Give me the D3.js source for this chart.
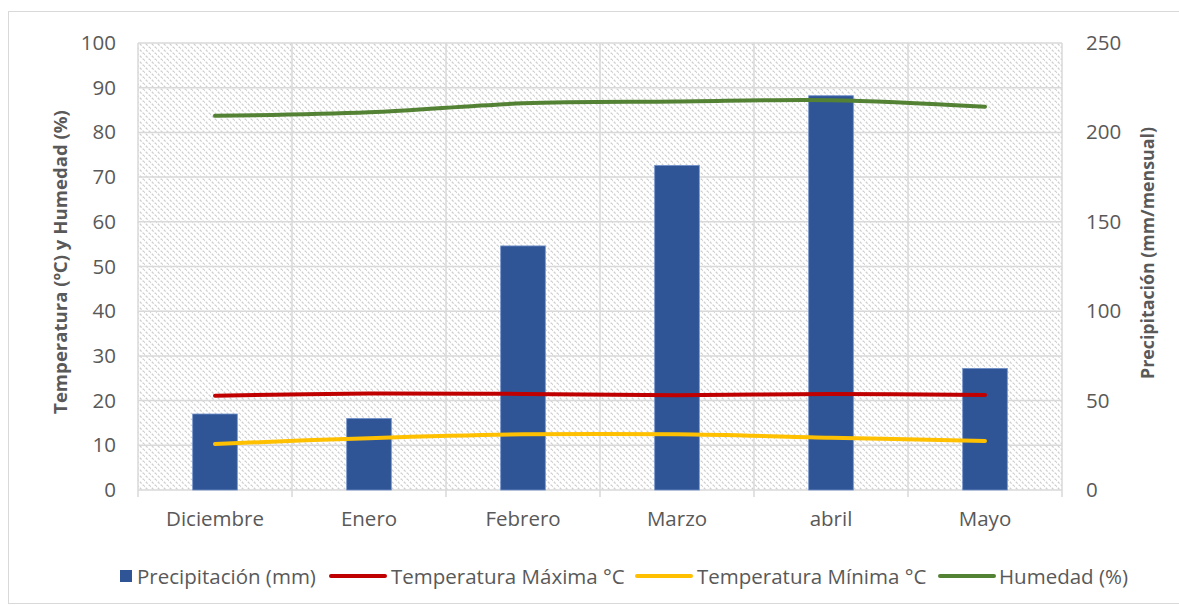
<!DOCTYPE html>
<html>
<head>
<meta charset="utf-8">
<script src="https://cdn.jsdelivr.net/npm/d3@7"></script>
<style>
  html, body { margin: 0; padding: 0; background: #fff; }
  svg { display: block; font-family: "Open Sans", "Liberation Sans", sans-serif; }
</style>
</head>
<body>
<svg id="chart" width="1179" height="606"></svg>
<script>
// Monthly climate summary
const months = ["Diciembre", "Enero", "Febrero", "Marzo", "abril", "Mayo"];
const precipitation = [42.5, 40, 136.5, 181.5, 220.5, 68];   // mm/mensual (right axis)
const tempMax = [21.1, 21.6, 21.5, 21.2, 21.5, 21.25];       // °C
const tempMin = [10.3, 11.6, 12.45, 12.45, 11.7, 10.95];     // °C
const humidity = [83.7, 84.5, 86.5, 86.9, 87.2, 85.75];      // %
const leftTicks = [0, 10, 20, 30, 40, 50, 60, 70, 80, 90, 100];
const rightTicks = [0, 50, 100, 150, 200, 250];

const svg = d3.select("#chart");
const plot = { left: 138, right: 1062, top: 43, bottom: 490 };
const textColor = "#595959";
const gridColor = "#d9d9d9";
const fontFamily = "Open Sans";
const labelSize = "20.5px";

// Outer chart frame
svg.append("rect")
  .attr("x", 8.5).attr("y", 11.5).attr("width", 1180).attr("height", 592)
  .attr("fill", "#fff").attr("stroke", "#d9d9d9").attr("stroke-width", 1);

// Diagonal hatch fill for the plot area
const defs = svg.append("defs");
const pat = defs.append("pattern")
  .attr("id", "hatch").attr("patternUnits", "userSpaceOnUse")
  .attr("width", 6).attr("height", 6);
pat.append("rect").attr("width", 6).attr("height", 6).attr("fill", "#fff");
pat.append("path").attr("d", "M-1,-1 L7,7 M-4,2 L2,8 M4,-2 L8,2")
  .attr("stroke", "#cfcfcf").attr("stroke-width", 1.3).attr("stroke-dasharray", "2.5,1.5");

const x = d3.scaleBand().domain(months).range([plot.left, plot.right]).paddingInner(0).paddingOuter(0);
const yL = d3.scaleLinear().domain([0, 100]).range([plot.bottom, plot.top]);
const yR = d3.scaleLinear().domain([0, 250]).range([plot.bottom, plot.top]);

svg.append("rect")
  .attr("x", plot.left).attr("y", plot.top)
  .attr("width", plot.right - plot.left).attr("height", plot.bottom - plot.top)
  .attr("fill", "url(#hatch)");

// Horizontal gridlines
svg.append("g").selectAll("line").data(leftTicks).join("line")
  .attr("x1", plot.left).attr("x2", plot.right)
  .attr("y1", d => yL(d)).attr("y2", d => yL(d))
  .attr("stroke", gridColor).attr("stroke-width", 1.5);

// Vertical gridlines at category boundaries, with tick marks below the axis
const bounds = months.map(m => x(m)).concat([x.range()[1]]);
svg.append("g").selectAll("line").data(bounds).join("line")
  .attr("x1", d => d).attr("x2", d => d)
  .attr("y1", plot.top).attr("y2", plot.bottom + 7)
  .attr("stroke", gridColor).attr("stroke-width", 1.5);

// Precipitation bars
const barW = 44.6;
svg.append("g").selectAll("rect").data(precipitation).join("rect")
  .attr("x", (d, i) => x(months[i]) + x.bandwidth() / 2 - barW / 2)
  .attr("y", d => yR(d))
  .attr("width", barW)
  .attr("height", d => yR(0) - yR(d))
  .attr("fill", "#2F5597")
  .attr("stroke", "#6f8fc9").attr("stroke-width", 0.8);

// Smoothed series lines
const lineFor = yScale => d3.line()
  .x((d, i) => x(months[i]) + x.bandwidth() / 2)
  .y(d => yScale(d))
  .curve(d3.curveCatmullRom.alpha(0.5));

const series = [
  { values: tempMax, color: "#C00000" },
  { values: tempMin, color: "#FFC000" },
  { values: humidity, color: "#548235" }
];
series.forEach(s => {
  svg.append("path").datum(s.values)
    .attr("d", lineFor(yL))
    .attr("fill", "none").attr("stroke", s.color)
    .attr("stroke-width", 4).attr("stroke-linecap", "round");
});

function styleTicks(g) {
  g.select(".domain").remove();
  g.selectAll("text").attr("fill", textColor)
    .style("font-size", labelSize).style("font-family", fontFamily);
}

// Left axis labels
const axisL = d3.axisLeft(yL).tickValues(leftTicks).tickSize(0).tickPadding(0);
svg.append("g").attr("transform", "translate(116,0)").call(axisL).call(styleTicks);

// Right axis labels
const axisR = d3.axisRight(yR).tickValues(rightTicks).tickSize(0).tickPadding(0);
svg.append("g").attr("transform", "translate(1086,0)").call(axisR).call(styleTicks);

// Category labels
const axisB = d3.axisBottom(x).tickSize(0).tickPadding(0);
svg.append("g").attr("transform", "translate(0,511)").call(axisB).call(styleTicks);

// Axis titles
svg.append("text")
  .attr("transform", "translate(59,262) rotate(-90)")
  .attr("text-anchor", "middle").attr("dominant-baseline", "central")
  .attr("fill", textColor).attr("font-weight", "bold").attr("font-size", 18.6)
  .text("Temperatura (ºC) y Humedad (%)");
svg.append("text")
  .attr("transform", "translate(1147,253) rotate(-90)")
  .attr("text-anchor", "middle").attr("dominant-baseline", "central")
  .attr("fill", textColor).attr("font-weight", "bold").attr("font-size", 17.8)
  .text("Precipitación (mm/mensual)");

// Legend
const legend = [
  { label: "Precipitación (mm)", color: "#2F5597", type: "box", x: 120, tx: 137 },
  { label: "Temperatura Máxima °C", color: "#C00000", type: "line", x: 331, tx: 391 },
  { label: "Temperatura Mínima °C", color: "#FFC000", type: "line", x: 637, tx: 697 },
  { label: "Humedad (%)", color: "#548235", type: "line", x: 940, tx: 999 }
];
const ly = 576;
const lg = svg.append("g");
legend.forEach(item => {
  if (item.type === "box") {
    lg.append("rect").attr("x", item.x).attr("y", ly - 6).attr("width", 12).attr("height", 12)
      .attr("fill", item.color);
  } else {
    lg.append("line").attr("x1", item.x).attr("x2", item.x + 54)
      .attr("y1", ly).attr("y2", ly)
      .attr("stroke", item.color).attr("stroke-width", 4).attr("stroke-linecap", "round");
  }
  lg.append("text").attr("x", item.tx).attr("y", ly).attr("dominant-baseline", "central")
    .attr("fill", textColor).attr("font-size", labelSize).text(item.label);
});
</script>
</body>
</html>
